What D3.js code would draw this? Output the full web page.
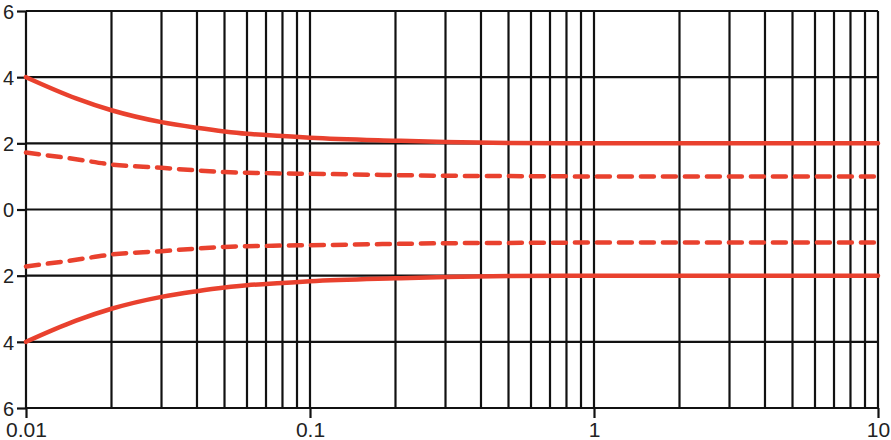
<!DOCTYPE html>
<html>
<head>
<meta charset="utf-8">
<script src="https://cdn.jsdelivr.net/npm/d3@7"></script>
<style>
  body { margin: 0; background: #fff; }
  text { font-family: "Liberation Sans", Arial, sans-serif; fill: #222; }
</style>
</head>
<body>
<div id="chart"></div>
<script>
// frequency points (log axis) and the four curves
const xs       = [0.01, 0.015, 0.02, 0.03, 0.04, 0.05, 0.06, 0.07, 0.08, 0.1, 0.2, 0.3, 0.5, 1, 2, 5, 10];
const solidHi  = [4.0, 3.36, 3.0, 2.64, 2.47, 2.36, 2.29, 2.25, 2.22, 2.17, 2.08, 2.04, 2.01, 2.0, 2.0, 2.0, 2.0];
const dashedHi = [1.72, 1.52, 1.36, 1.26, 1.18, 1.13, 1.11, 1.10, 1.09, 1.08, 1.04, 1.02, 1.01, 1.0, 1.0, 1.0, 1.0];
const solidLo  = solidHi.map(v => -v);
const dashedLo = dashedHi.map(v => -v);

const yTicks = [6, 4, 2, 0, -2, -4, -6];
const xTicks = [0.01, 0.1, 1, 10];
const xTickLabels = ["0.01", "0.1", "1", "10"];

const svgWidth = 891, svgHeight = 440;
const margin = {top: 11, right: 13, bottom: 32, left: 26},
      width = svgWidth - margin.left - margin.right,
      height = svgHeight - margin.top - margin.bottom;

const svg = d3.select("#chart").append("svg")
    .attr("width", svgWidth)
    .attr("height", svgHeight);

const g = svg.append("g")
    .attr("transform", "translate(" + margin.left + "," + margin.top + ")");

const x = d3.scaleLog().domain([0.01, 10]).range([0, width]);
const y = d3.scaleLinear().domain([-6, 6]).range([height, 0]);

// minor + major vertical grid
const gridX = [];
[0.01, 0.1, 1].forEach(dec => {
    for (let k = 1; k <= 9; k++) gridX.push(dec * k);
});
gridX.push(10);

const grid = g.append("g").attr("class", "grid")
    .attr("stroke", "#111")
    .attr("stroke-width", 2.2);

grid.selectAll("line.v")
    .data(gridX)
    .enter().append("line")
    .attr("class", "v")
    .attr("x1", d => x(d)).attr("x2", d => x(d))
    .attr("y1", 0).attr("y2", height);

grid.selectAll("line.h")
    .data(yTicks)
    .enter().append("line")
    .attr("class", "h")
    .attr("x1", 0).attr("x2", width)
    .attr("y1", d => y(d)).attr("y2", d => y(d));

// Y axis: ticks outward, labels show magnitudes
const yAxis = g.append("g")
    .call(d3.axisLeft(y).tickValues(yTicks).tickSize(9).tickPadding(3)
        .tickFormat(d => Math.abs(d)));
yAxis.select(".domain").remove();
yAxis.selectAll(".tick line").attr("stroke", "#111").attr("stroke-width", 2.2);
yAxis.selectAll(".tick text")
    .style("font-size", "20px")
    .attr("fill", "#222")
    .attr("dy", "0.36em");

// X axis
const xAxis = g.append("g")
    .attr("transform", "translate(0," + height + ")")
    .call(d3.axisBottom(x).tickValues(xTicks).tickSize(10).tickPadding(4)
        .tickFormat((d, i) => xTickLabels[i]));
xAxis.select(".domain").remove();
xAxis.selectAll(".tick line").attr("stroke", "#111").attr("stroke-width", 2.2);
xAxis.selectAll(".tick text")
    .style("font-size", "21px")
    .attr("fill", "#222");

// curves
const line = d3.line()
    .x((d, i) => x(xs[i]))
    .y(d => y(d))
    .curve(d3.curveMonotoneX);

const series = [
    {values: solidHi, dash: null},
    {values: dashedHi, dash: "13,9"},
    {values: dashedLo, dash: "13,9"},
    {values: solidLo, dash: null}
];

g.append("g").attr("class", "curves")
    .selectAll("path")
    .data(series)
    .enter().append("path")
    .attr("fill", "none")
    .attr("stroke", "#e9412e")
    .attr("stroke-width", 4.5)
    .attr("stroke-linecap", "round")
    .attr("stroke-dasharray", d => d.dash)
    .attr("d", d => line(d.values));
</script>
</body>
</html>
